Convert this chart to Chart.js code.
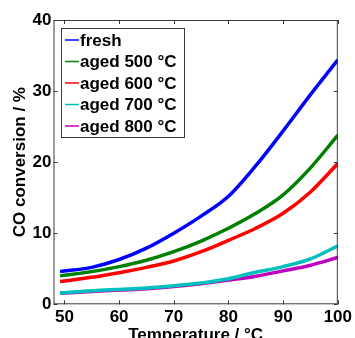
<!DOCTYPE html>
<html>
<head>
<meta charset="utf-8">
<script src="https://cdn.jsdelivr.net/npm/chart.js@4"></script>
<style>
    html, body { margin: 0; padding: 0; background: #fff; }
    #wrap { width: 355px; height: 338px; }
</style>
</head>
<body>
<div id="wrap"><canvas id="chart" width="355" height="338"></canvas></div>
<script>
// temperatures (°C) and CO conversion (%)
const temps = [49.2, 55, 60, 65, 70, 75, 80, 85, 90, 95, 100];
const fresh = [4.6, 5.2, 6.3, 7.9, 10.0, 12.4, 15.2, 19.5, 24.4, 29.5, 34.4];
const aged500 = [4.0, 4.6, 5.3, 6.2, 7.4, 8.9, 10.7, 12.8, 15.4, 19.2, 23.8];
const aged600 = [3.2, 3.8, 4.45, 5.2, 6.1, 7.4, 9.0, 10.7, 12.8, 15.8, 19.8];
const aged700 = [1.6, 1.9, 2.1, 2.3, 2.6, 3.0, 3.6, 4.5, 5.3, 6.4, 8.2];
const aged800 = [1.55, 1.8, 2.0, 2.2, 2.5, 2.9, 3.4, 3.95, 4.7, 5.5, 6.6];

const seriesLabels = ['fresh', 'aged 500 °C', 'aged 600 °C', 'aged 700 °C', 'aged 800 °C'];
const seriesColors = ['#0000ff', '#008000', '#ff0000', '#00bfbf', '#bf00bf'];
const seriesValues = [fresh, aged500, aged600, aged700, aged800];

const xTicks = [50, 60, 70, 80, 90, 100];
const yTicks = [0, 10, 20, 30, 40];

const FONT = 'Liberation Sans, Arial, sans-serif';

// frame, inward ticks and the legend box, MATLAB style
const framePlugin = {
    id: 'frame',
    afterDraw(chart) {
        const { ctx, chartArea: a, scales } = chart;
        ctx.save();
        ctx.strokeStyle = '#3a3a3a';
        ctx.lineWidth = 1;
        ctx.strokeRect(a.left + 0.5, a.top + 0.5, a.right - a.left - 1, a.bottom - a.top - 1);
        ctx.beginPath();
        xTicks.forEach(v => {
            const px = Math.round(scales.x.getPixelForValue(v)) + 0.5;
            ctx.moveTo(px, a.bottom); ctx.lineTo(px, a.bottom - 4);
            ctx.moveTo(px, a.top); ctx.lineTo(px, a.top + 4);
        });
        yTicks.forEach(v => {
            const py = Math.round(scales.y.getPixelForValue(v)) + 0.5;
            ctx.moveTo(a.left, py); ctx.lineTo(a.left + 4, py);
            ctx.moveTo(a.right, py); ctx.lineTo(a.right - 4, py);
        });
        ctx.stroke();

        // legend
        const lx = 61, ly = 28, lw = 123, lh = 109;
        ctx.fillStyle = '#fff';
        ctx.fillRect(lx, ly, lw, lh);
        ctx.strokeStyle = '#3a3a3a';
        ctx.strokeRect(lx + 0.5, ly + 0.5, lw, lh);
        ctx.font = 'bold 17px ' + FONT;
        ctx.textBaseline = 'middle';
        ctx.fillStyle = '#000';
        seriesLabels.forEach((label, i) => {
            const cy = 40 + i * 21.5;
            ctx.strokeStyle = seriesColors[i];
            ctx.lineWidth = 1.5;
            ctx.beginPath();
            ctx.moveTo(65, cy); ctx.lineTo(79, cy);
            ctx.stroke();
            ctx.fillText(label, 80, cy + 1);
        });
        ctx.restore();
    }
};

new Chart(document.getElementById('chart'), {
    type: 'line',
    data: {
        datasets: seriesLabels.map((label, i) => ({
            label,
            data: temps.map((t, j) => ({ x: t, y: seriesValues[i][j] })),
            borderColor: seriesColors[i],
            backgroundColor: seriesColors[i],
            borderWidth: 3.5,
            pointRadius: 0,
            cubicInterpolationMode: 'monotone'
        }))
    },
    options: {
        responsive: false,
        animation: false,
        layout: { padding: { top: 20, right: 15.7, left: 0, bottom: 0 } },
        plugins: { legend: { display: false }, tooltip: { enabled: false } },
        scales: {
            x: {
                type: 'linear',
                min: 48,
                max: 100,
                afterBuildTicks: s => { s.ticks = xTicks.map(v => ({ value: v })); },
                afterFit: s => { s.height = 33.7; },
                grid: { display: false, drawTicks: false },
                border: { display: false },
                ticks: { color: '#000', padding: 3, maxRotation: 0, font: { family: FONT, size: 17, weight: 'bold' } },
                title: {
                    display: true,
                    text: 'Temperature / °C',
                    color: '#000',
                    padding: { top: 0, bottom: -8 },
                    font: { family: FONT, size: 17, weight: 'bold' }
                }
            },
            y: {
                min: 0,
                max: 40,
                afterBuildTicks: s => { s.ticks = yTicks.map(v => ({ value: v })); },
                afterFit: s => { s.width = 53.5; },
                grid: { display: false, drawTicks: false },
                border: { display: false },
                ticks: { color: '#000', padding: 2, font: { family: FONT, size: 17, weight: 'bold' } },
                title: {
                    display: true,
                    text: 'CO conversion / %',
                    color: '#000',
                    padding: { top: 10, bottom: 0 },
                    font: { family: FONT, size: 17, weight: 'bold' }
                }
            }
        }
    },
    plugins: [framePlugin]
});
</script>
</body>
</html>
